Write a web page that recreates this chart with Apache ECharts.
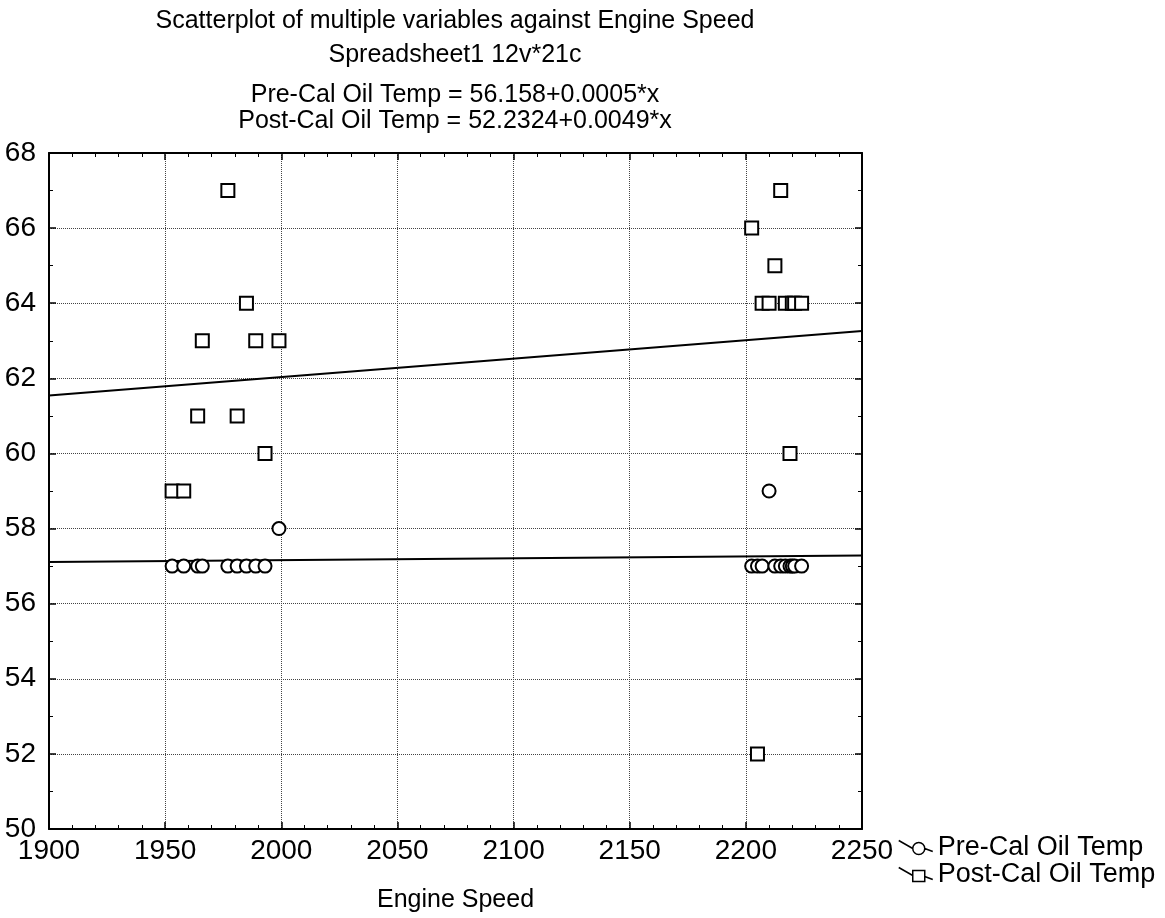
<!DOCTYPE html>
<html>
<head>
<meta charset="utf-8">
<script src="https://cdn.jsdelivr.net/npm/echarts@6/dist/echarts.min.js"></script>
<style>
  html, body { margin: 0; padding: 0; background: #fff; }
  #chart { width: 1165px; height: 918px; }
</style>
</head>
<body>
<div id="chart"></div>
<script>
// 数据：Engine Speed 对应两组油温
var engineSpeed = [1953, 1958, 1964, 1966, 1977, 1981, 1985, 1989, 1993, 1999,
                   2202.5, 2205, 2207, 2210, 2212.5, 2215, 2217, 2219, 2220, 2221, 2224];
var preCal  = [57, 57, 57, 57, 57, 57, 57, 57, 57, 58,
               57, 57, 57, 59, 57, 57, 57, 57, 57, 57, 57];
var postCal = [59, 59, 61, 63, 67, 61, 64, 63, 60, 63,
               66, 52, 64, 64, 65, 67, 64, 60, 64, 64, 64];
// 拟合线两端
var preFit  = [[1900, 57.11], [2250, 57.28]];
var postFit = [[1900, 61.54], [2250, 63.26]];
var xTicks = { min: 1900, max: 2250, step: 50 };
var yTicks = { min: 50, max: 68, step: 2 };

(function () {
    var myChart = echarts.init(document.getElementById('chart'));
    var font = "'Liberation Sans', Arial, sans-serif";

    function pairs(ys) {
        return engineSpeed.map(function (x, i) { return [x, ys[i]]; });
    }

    // 坐标轴公共样式
    var axisLine = { show: true, lineStyle: { color: '#000', width: 2 } };
    var tick = { show: true, inside: true, length: 7, lineStyle: { color: '#000', width: 1.5 } };
    var splitLine = { show: true, lineStyle: { color: '#444', type: 'dotted', width: 1 } };

    var option = {
        backgroundColor: '#fff',
        animation: false,
        title: [
            { text: 'Scatterplot of multiple variables against Engine Speed', top: 9 },
            { text: 'Spreadsheet1 12v*21c', top: 43 },
            { text: 'Pre-Cal Oil Temp = 56.158+0.0005*x', top: 83 },
            { text: 'Post-Cal Oil Temp = 52.2324+0.0049*x', top: 109 }
        ].map(function (t) {
            t.left = 455;
            t.textAlign = 'center';
            t.padding = 0;
            t.textStyle = { fontFamily: font, fontSize: 25, fontWeight: 'normal', color: '#000' };
            return t;
        }),
        legend: {
            orient: 'vertical',
            left: 893,
            top: 829,
            itemGap: 0,
            itemWidth: 34,
            itemHeight: 14,
            data: [
                { name: 'Pre-Cal Oil Temp',
                  icon: 'path://M0,0L14,8M14,8A6,6,0,1,0,26,8A6,6,0,1,0,14,8M26,8L34,11' },
                { name: 'Post-Cal Oil Temp',
                  icon: 'path://M0,0L14,8M14,3L26,3L26,14L14,14ZM26,9L34,12' }
            ],
            itemStyle: { color: '#fff', borderColor: '#000', borderWidth: 1.5 },
            textStyle: { fontFamily: font, fontSize: 27, lineHeight: 22, color: '#000' }
        },
        grid: {
            left: 49,
            right: 303,
            top: 153,
            bottom: 88
        },
        xAxis: [
            {
                type: 'value',
                min: xTicks.min, max: xTicks.max, interval: xTicks.step,
                name: 'Engine Speed',
                nameLocation: 'middle',
                nameGap: 59,
                nameTextStyle: { fontFamily: font, fontSize: 25, color: '#000' },
                axisLine: axisLine,
                axisTick: tick,
                minorTick: { show: true, splitNumber: 5, length: 4, lineStyle: { color: '#000' } },
                axisLabel: {
                    fontFamily: font, fontSize: 28, color: '#000', margin: 8,
                    formatter: function (v) { return String(v); }
                },
                splitLine: splitLine
            },
            {
                type: 'value', position: 'top',
                min: xTicks.min, max: xTicks.max, interval: xTicks.step,
                axisLine: axisLine,
                axisTick: tick,
                minorTick: { show: true, splitNumber: 5, length: 4, lineStyle: { color: '#000' } },
                axisLabel: { show: false },
                splitLine: { show: false }
            }
        ],
        yAxis: [
            {
                type: 'value',
                min: yTicks.min, max: yTicks.max, interval: yTicks.step,
                axisLine: axisLine,
                axisTick: tick,
                minorTick: { show: true, splitNumber: 2, length: 4, lineStyle: { color: '#000' } },
                axisLabel: { fontFamily: font, fontSize: 28, color: '#000', margin: 13 },
                splitLine: splitLine
            },
            {
                type: 'value', position: 'right',
                min: yTicks.min, max: yTicks.max, interval: yTicks.step,
                axisLine: axisLine,
                axisTick: tick,
                minorTick: { show: true, splitNumber: 2, length: 4, lineStyle: { color: '#000' } },
                axisLabel: { show: false },
                splitLine: { show: false }
            }
        ],
        series: [
            {
                name: 'Pre-Cal fit',
                type: 'line',
                data: preFit,
                showSymbol: false,
                silent: true,
                lineStyle: { color: '#000', width: 2 },
                z: 2
            },
            {
                name: 'Post-Cal fit',
                type: 'line',
                data: postFit,
                showSymbol: false,
                silent: true,
                lineStyle: { color: '#000', width: 2 },
                z: 2
            },
            {
                name: 'Pre-Cal Oil Temp',
                type: 'scatter',
                symbol: 'circle',
                symbolSize: 13,
                data: pairs(preCal),
                itemStyle: { color: '#fff', borderColor: '#000', borderWidth: 2, opacity: 1 },
                z: 3
            },
            {
                name: 'Post-Cal Oil Temp',
                type: 'scatter',
                symbol: 'rect',
                symbolSize: 13,
                data: pairs(postCal),
                itemStyle: { color: '#fff', borderColor: '#000', borderWidth: 2, opacity: 1 },
                z: 3
            }
        ]
    };
    myChart.setOption(option);
})();
</script>
</body>
</html>
